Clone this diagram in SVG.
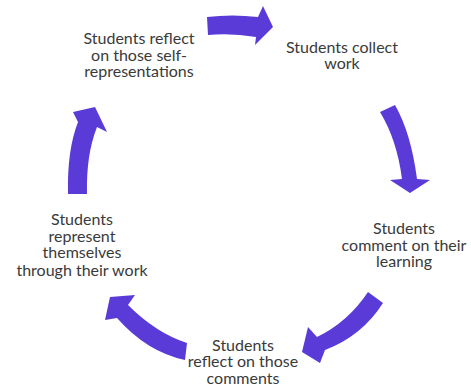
<svg xmlns="http://www.w3.org/2000/svg" width="471" height="389" viewBox="0 0 471 389">
<style>
.lbl{font-family:Lato,"Open Sans","Liberation Sans",sans-serif;font-size:16px;fill:#3a3a3a;text-anchor:middle}
.arr{fill:#5B3BD7}
</style>
<rect width="471" height="389" fill="#fff"/>
<g id="connectors">
<path class="arr" d="M207,17 Q232,14 258,17 L263,6 L273,27 L255,45 L256,37 Q232,33 208,35 Z"/>
<path class="arr" d="M380,112 L395,105 Q411,133 417,179 L430,180 L410,193 L390,180 L402,179 Q397,140 380,112 Z"/>
<path class="arr" d="M368,292 L383,303 Q362,336 325,350 L320,363 L302,352 L308,327 L317,337 Q348,322 368,292 Z"/>
<path class="arr" d="M187,343 L185,360 Q147,352 117,318 L105,320 L110,297 L135,295 L128,305 Q156,333 187,343 Z"/>
<path class="arr" d="M68,194 Q67,150 78,122 L73,112 L95,107 L107,132 L97,127 Q86,155 87,194 Z"/>
</g>
<g id="node-reflect-self">
<text class="lbl" x="139" y="44">Students reflect</text>
<text class="lbl" x="139" y="61">on those self-</text>
<text class="lbl" x="139" y="77">representations</text>
</g>
<g id="node-collect">
<text class="lbl" x="342" y="53">Students collect</text>
<text class="lbl" x="342" y="69">work</text>
</g>
<g id="node-comment">
<text class="lbl" x="404" y="234">Students</text>
<text class="lbl" x="404" y="251">comment on their</text>
<text class="lbl" x="404" y="267">learning</text>
</g>
<g id="node-reflect-comments">
<text class="lbl" x="243" y="351">Students</text>
<text class="lbl" x="243" y="367">reflect on those</text>
<text class="lbl" x="243" y="384">comments</text>
</g>
<g id="node-represent">
<text class="lbl" x="82" y="225">Students</text>
<text class="lbl" x="82" y="242">represent</text>
<text class="lbl" x="82" y="258">themselves</text>
<text class="lbl" x="82" y="276">through their work</text>
</g>
</svg>
